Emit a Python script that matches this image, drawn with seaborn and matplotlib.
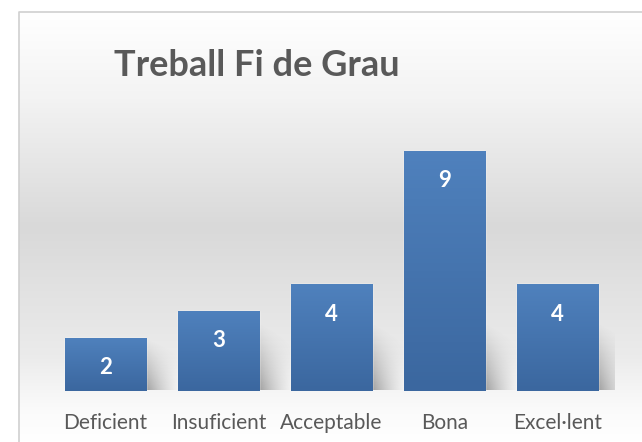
import numpy as np
import matplotlib.pyplot as plt
import seaborn as sns
from matplotlib.colors import LinearSegmentedColormap

categories = ['Deficient', 'Insuficient', 'Acceptable', 'Bona', 'Excel·lent']
counts = [2, 3, 4, 9, 4]
title = 'Treball Fi de Grau'

sns.set_theme(style='white')
plt.rcParams['font.family'] = ['Lato', 'DejaVu Sans']

fig = plt.figure(figsize=(6.42, 4.42), dpi=100)

# chart area background: excel-like vertical gray gradient + light border
bg = fig.add_axes([0, 0, 1, 1], zorder=0)
bg.set_xlim(0, 642)
bg.set_ylim(442, 0)
bg.axis('off')
bg_cmap = LinearSegmentedColormap.from_list(
    'bg', [(0, '#ffffff'), (0.2, '#f3f3f3'), (0.5, '#d9d9d9'),
           (0.8, '#ebebeb'), (0.92, '#fafafa'), (1, '#ffffff')])
bg.imshow(np.linspace(0, 1, 256)[:, None], cmap=bg_cmap,
          extent=[19, 642, 442, 12], aspect='auto')
bg.plot([19, 19, 642], [442, 12, 12], color='#d0d0d0', lw=1.2)

# plot area
ax = fig.add_axes([49 / 642, 51 / 442, 565 / 642, 266.7 / 442], zorder=1)
ax.patch.set_alpha(0)
sns.barplot(x=categories, y=counts, ax=ax, width=0.717, color='#4a7ebb',
            saturation=1)

# soft shadow to the lower right of each bar
xs = np.linspace(0, 1, 60)
ys = np.linspace(0, 1, 60)
gx, gy = np.meshgrid(xs, ys)
for p in ax.patches:
    x1, h = p.get_x() + p.get_width(), p.get_height()
    sh_h = min(h, 2.6)
    alpha = 0.65 * (1 - gx) ** 1.2 * np.clip(1 - gy - 0.3 * gx, 0, 1) ** 1.1
    rgba = np.zeros((60, 60, 4))
    rgba[..., :3] = 0.4
    rgba[..., 3] = alpha
    ax.imshow(rgba, extent=[x1 - 0.02, x1 + 0.3, 0.05, sh_h], origin='lower',
              aspect='auto', zorder=p.get_zorder() - 0.5)

# gradient fill for each bar
bar_cmap = LinearSegmentedColormap.from_list('bar', ['#3b679f', '#4f81bd'])
for p in ax.patches:
    x0, w, h = p.get_x(), p.get_width(), p.get_height()
    im = ax.imshow(np.linspace(0, 1, 64)[:, None], cmap=bar_cmap,
                   extent=[x0, x0 + w, 0, h], origin='lower', aspect='auto',
                   zorder=p.get_zorder() + 0.1)
    im.set_clip_path(p)
ax.set_ylim(0, 10)
ax.set_xlim(-0.5, len(categories) - 0.5)

for p, v in zip(ax.patches, counts):
    ax.annotate(str(v), (p.get_x() + p.get_width() / 2, p.get_height()),
                xytext=(0, -21.5), textcoords='offset points',
                ha='center', va='center', color='white',
                fontsize=16, fontweight='bold', zorder=5)

ax.set_xlabel('')
ax.set_ylabel('')
ax.set_yticks([])
ax.tick_params(axis='x', length=0, pad=16, labelsize=15, labelcolor='#595959')
sns.despine(ax=ax, left=True, bottom=True)

fig.text(257 / 642, 1 - 65 / 442, title, ha='center', va='center',
         fontsize=26, fontweight='bold', color='#595959')

fig.savefig('out.png', dpi=100)
